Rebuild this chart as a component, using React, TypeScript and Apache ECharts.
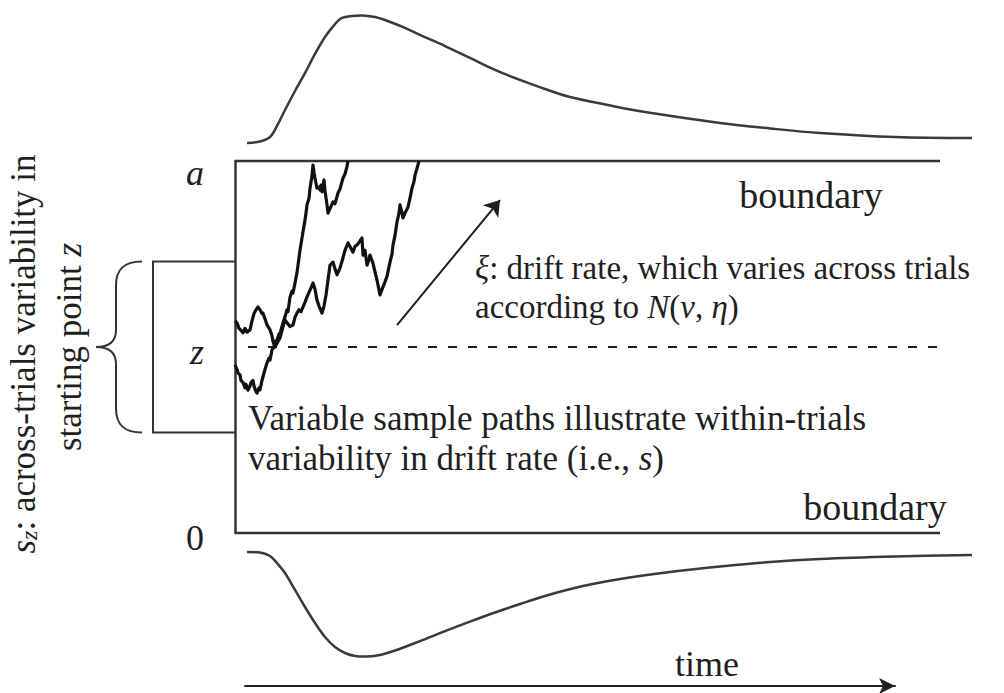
import React, { useEffect, useRef } from "react";
import * as echarts from "echarts";

const SERIF = '"Liberation Serif", "Times New Roman", serif';
const INK = "#1f1f1f";
const LINE = "#333";

// Evidence scale: lower boundary 0, upper boundary a = 1; time in ms from trial onset.
const evidenceTicks = [0, 0.5, 1];
const evidenceTickLabels = ["0", "z", "a"];
const startPoint = 0.5; // z
const startRange = [0.27, 0.73]; // z ± s_z / 2
const boundaryEnd = 705;

// Response-time density at the upper boundary [t, density]
const upperDensity: [number, number][] = [
  [12, 0], [25, 0.012], [35, 0.046], [42, 0.131], [50, 0.254], [60, 0.4], [70, 0.538],
  [80, 0.685], [90, 0.815], [100, 0.915], [107, 0.962], [117, 0.977], [127, 0.981],
  [140, 0.969], [150, 0.946], [170, 0.885], [185, 0.831], [210, 0.746], [235, 0.654],
  [260, 0.562], [285, 0.485], [310, 0.415], [335, 0.354], [373, 0.292], [410, 0.238],
  [485, 0.154], [535, 0.112], [585, 0.077], [660, 0.046], [737, 0.038],
];

// Response-time density at the lower boundary [t, density]
const lowerDensity: [number, number][] = [
  [12, 0], [25, 0.004], [35, 0.031], [42, 0.085], [50, 0.162], [60, 0.292], [70, 0.423],
  [80, 0.546], [90, 0.654], [100, 0.731], [110, 0.777], [120, 0.8], [130, 0.804],
  [145, 0.792], [160, 0.758], [185, 0.685], [210, 0.608], [235, 0.535], [260, 0.465],
  [285, 0.4], [310, 0.338], [348, 0.262], [385, 0.208], [435, 0.154], [485, 0.112],
  [535, 0.077], [585, 0.054], [660, 0.035], [737, 0.023],
];

// Sample evidence paths [t, evidence]
const pathFast: [number, number][] = [
  [0, 0.452], [2, 0.44], [3, 0.43], [5, 0.425], [6, 0.41], [8, 0.405], [10, 0.39], [11, 0.4],
  [13, 0.384], [15, 0.395], [16, 0.405], [18, 0.41], [19, 0.395], [21, 0.38], [22, 0.376],
  [24, 0.39], [25, 0.385], [27, 0.41], [29, 0.43], [30, 0.44], [32, 0.457], [34, 0.47],
  [35, 0.465], [37, 0.492], [39, 0.5], [40, 0.515], [42, 0.519], [44, 0.535], [45, 0.53],
  [46, 0.546], [48, 0.565], [50, 0.581], [52, 0.6], [53, 0.595], [55, 0.634], [57, 0.65],
  [58, 0.645], [60, 0.672], [62, 0.7], [63, 0.72], [65, 0.76], [67, 0.793], [68, 0.81],
  [70, 0.841], [71, 0.86], [72, 0.882], [74, 0.9], [75, 0.927], [77, 0.96], [78, 0.989],
  [79, 0.97], [80, 0.954], [81, 0.94], [82, 0.927], [84, 0.93], [85, 0.922], [86, 0.935],
  [87, 0.917], [88, 0.935], [89, 0.949], [90, 0.92], [92, 0.882], [93, 0.86], [95, 0.872],
  [98, 0.89], [100, 0.885], [103, 0.914], [105, 0.925], [108, 0.954], [110, 0.965],
  [112, 0.985], [113, 1.0],
];

const pathSlow: [number, number][] = [
  [0, 0.57], [2, 0.565], [4, 0.55], [6, 0.545], [8, 0.538], [10, 0.55], [12, 0.54], [15, 0.546],
  [17, 0.57], [19, 0.59], [21, 0.6], [23, 0.608], [25, 0.6], [27, 0.59], [28, 0.591],
  [30, 0.575], [32, 0.56], [35, 0.546], [37, 0.53], [38, 0.515], [40, 0.5], [42, 0.51],
  [45, 0.524], [47, 0.545], [50, 0.573], [52, 0.565], [55, 0.555], [58, 0.559], [60, 0.58],
  [62, 0.591], [64, 0.6], [66, 0.595], [68, 0.608], [70, 0.62], [72, 0.635], [75, 0.653],
  [78, 0.672], [80, 0.655], [82, 0.626], [84, 0.61], [87, 0.591], [89, 0.61], [91, 0.64],
  [93, 0.68], [95, 0.72], [98, 0.728], [100, 0.71], [102, 0.694], [103, 0.7], [105, 0.712],
  [108, 0.74], [110, 0.76], [113, 0.78], [116, 0.765], [118, 0.755], [120, 0.77], [122, 0.774],
  [125, 0.785], [127, 0.793], [128, 0.747], [130, 0.76], [132, 0.72], [134, 0.735],
  [135, 0.747], [138, 0.725], [140, 0.702], [142, 0.68], [145, 0.64], [147, 0.655],
  [150, 0.675], [152, 0.69], [155, 0.728], [157, 0.75], [158, 0.774], [160, 0.8],
  [162, 0.836], [164, 0.86], [165, 0.882], [167, 0.86], [168, 0.847], [170, 0.86],
  [173, 0.876], [175, 0.9], [177, 0.927], [179, 0.945], [180, 0.962], [182, 0.98], [184, 1.0],
];

// Mean drift direction [t, evidence]
const driftArrow: [number, number][] = [[162, 0.559], [265, 0.895]];

// Layout (time units; t = 0 sits on the left edge of the process box)
const T_MAX = 737;
const BOX_T = -82;
const BRACE_END_T = -93;
const BRACE_TIP_T = -139;
const DASH_START_T = 13;

const lineSeries = (name: string, data: number[][], style: any, axis = 0, extra: any = {}) => ({
  name,
  type: "line",
  xAxisIndex: axis,
  yAxisIndex: axis,
  data,
  symbol: "none",
  silent: true,
  clip: false,
  lineStyle: style,
  ...extra,
});

const text = (x: number, y: number, t: string, size: number, opts: any = {}) => ({
  type: "text",
  x,
  y,
  rotation: opts.rotation || 0,
  silent: true,
  style: {
    text: t,
    fill: INK,
    fontFamily: SERIF,
    fontSize: size,
    align: opts.align || "left",
    verticalAlign: "middle",
    rich: {
      i: { fontFamily: SERIF, fontSize: size, fontStyle: "italic", fill: INK },
      sub: { fontFamily: SERIF, fontSize: Math.round(size * 0.68), fontStyle: "italic", fill: INK, verticalAlign: "bottom" },
    },
  },
});

export default function App() {
  const ref = useRef<HTMLDivElement>(null);

  useEffect(() => {
    document.body.style.margin = "0";
    const chart = echarts.init(ref.current!, null, { renderer: "svg" });

    const hiddenX = (i: number) => ({ type: "value", gridIndex: i, min: 0, max: T_MAX, show: false });
    const g = (o: any) => ({ outerBoundsMode: "none", containLabel: false, ...o });

    chart.setOption({
      animation: false,
      backgroundColor: "#fff",
      grid: [
        g({ left: 235, right: 32, top: 161, height: 372 }),
        g({ left: 235, right: 32, top: 13, height: 130 }),
        g({ left: 235, right: 32, top: 552, height: 130 }),
        g({ left: 245, width: 650, top: 600, height: 86 }),
      ],
      xAxis: [
        hiddenX(0),
        hiddenX(1),
        hiddenX(2),
        {
          type: "value",
          gridIndex: 3,
          min: 0,
          max: 1,
          axisLine: { show: true, symbol: ["none", "arrow"], symbolSize: [12, 16], lineStyle: { color: INK, width: 2 } },
          axisTick: { show: false },
          axisLabel: { show: false },
          splitLine: { show: false },
        },
      ],
      yAxis: [
        {
          type: "value",
          gridIndex: 0,
          min: 0,
          max: 1,
          interval: 0.5,
          axisLine: { show: true, onZero: false, lineStyle: { color: LINE, width: 2.5 } },
          axisTick: { show: false },
          splitLine: { show: false },
          axisLabel: {
            margin: 31,
            formatter: (v: number) => {
              const lbl = evidenceTickLabels[evidenceTicks.indexOf(v)] ?? "";
              if (lbl === "a") return "{top|a}";
              if (lbl === "z") return "{it|z}";
              return "{num|" + lbl + "}";
            },
            rich: {
              top: { fontFamily: SERIF, fontSize: 36, fontStyle: "italic", color: INK, padding: [24, 0, 0, 0] },
              it: { fontFamily: SERIF, fontSize: 36, fontStyle: "italic", color: INK, padding: [10, 0, 0, 0] },
              num: { fontFamily: SERIF, fontSize: 36, color: INK, padding: [10, 0, 0, 0] },
            },
          },
        },
        { type: "value", gridIndex: 1, min: 0, max: 1, show: false },
        { type: "value", gridIndex: 2, min: 0, max: 1, inverse: true, show: false },
        { type: "value", gridIndex: 3, min: 0, max: 1, show: false },
      ],
      series: [
        lineSeries("upper boundary", [[0, 1], [boundaryEnd, 1]], { color: LINE, width: 2.5 }),
        lineSeries("lower boundary", [[0, 0], [boundaryEnd, 0]], { color: LINE, width: 2.5 }),
        {
          // starting-point range: box from the process edge plus the curly brace
          name: "starting-point range",
          type: "custom",
          xAxisIndex: 0,
          yAxisIndex: 0,
          silent: true,
          clip: false,
          data: [[startRange[0], startRange[1]]],
          renderItem: (_p: any, api: any) => {
            const lo = api.value(0);
            const hi = api.value(1);
            const [x0, yHi] = api.coord([0, hi]);
            const [xBox, yLo] = api.coord([BOX_T, lo]);
            const [xr] = api.coord([BRACE_END_T, hi]);
            const [xTip, yMid] = api.coord([BRACE_TIP_T, (lo + hi) / 2]);
            const xs = xTip + 20;
            const d =
              `M${xr},${yHi} C${xs + 9},${yHi} ${xs},${yHi + 7} ${xs},${yHi + 24} ` +
              `L${xs},${yMid - 17} C${xs},${yMid - 5} ${xs - 8},${yMid} ${xTip},${yMid} ` +
              `C${xs - 8},${yMid} ${xs},${yMid + 5} ${xs},${yMid + 17} ` +
              `L${xs},${yLo - 24} C${xs},${yLo - 7} ${xs + 9},${yLo} ${xr},${yLo}`;
            return {
              type: "group",
              children: [
                {
                  type: "polyline",
                  shape: { points: [[x0, yHi], [xBox, yHi], [xBox, yLo], [x0, yLo]] },
                  style: { stroke: LINE, fill: "none", lineWidth: 2 },
                },
                { type: "path", shape: { pathData: d }, style: { stroke: LINE, fill: "none", lineWidth: 2 } },
              ],
            };
          },
        },
        lineSeries("starting point", [[DASH_START_T, startPoint], [boundaryEnd, startPoint]], {
          color: INK,
          width: 2,
          type: [9, 11],
        }),
        lineSeries("path 1", pathFast, { color: "#111", width: 3.2, join: "round" }),
        lineSeries("path 2", pathSlow, { color: "#111", width: 3.2, join: "round" }),
        lineSeries("drift", [], { color: INK, width: 2 }, 0, {
          markLine: {
            silent: true,
            symbol: ["none", "arrow"],
            symbolSize: 15,
            label: { show: false },
            lineStyle: { color: INK, width: 2, type: "solid" },
            emphasis: { disabled: true },
            data: [[{ coord: driftArrow[0] }, { coord: driftArrow[1] }]],
          },
        }),
        lineSeries("upper RT density", upperDensity, { color: "#3a3a3a", width: 2.5 }, 1, { smooth: 0.35 }),
        lineSeries("lower RT density", lowerDensity, { color: "#3a3a3a", width: 2.5 }, 2, { smooth: 0.35 }),
      ],
      graphic: [
        text(811, 195, "boundary", 38, { align: "center" }),
        text(475, 268, "{i|ξ}: drift rate, which varies across trials", 33),
        text(475, 307, "according to {i|N}({i|v}, {i|η})", 33),
        text(248, 418, "Variable sample paths illustrate within-trials", 35),
        text(248, 458, "variability in drift rate (i.e., {i|s})", 35),
        text(875, 507, "boundary", 38, { align: "center" }),
        text(707, 664, "time", 36, { align: "center" }),
        text(23, 354, "{i|s}{sub|z}: across-trials variability in", 35, { align: "center", rotation: Math.PI / 2 }),
        text(69, 347, "starting point {i|z}", 35, { align: "center", rotation: Math.PI / 2 }),
      ],
    });

    return () => chart.dispose();
  }, []);

  return <div ref={ref} style={{ width: 1004, height: 693, position: "absolute", left: 0, top: 0 }} />;
}
